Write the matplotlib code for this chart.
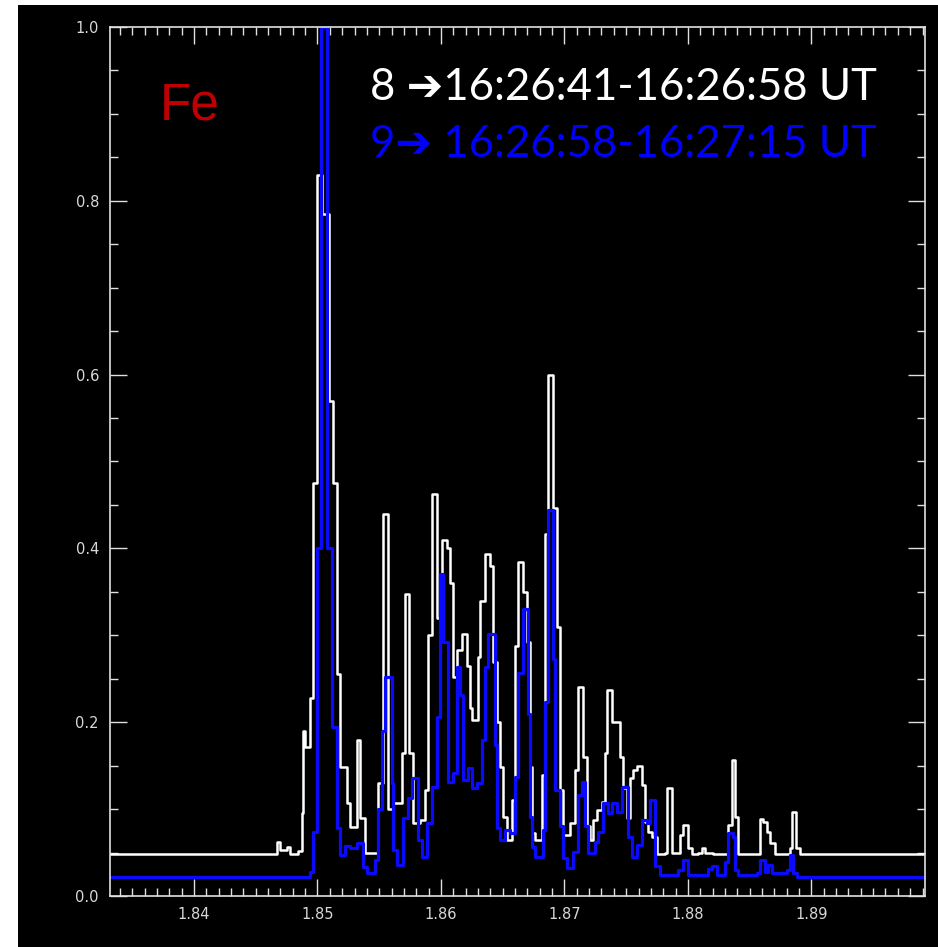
import numpy as np
import matplotlib
matplotlib.use("Agg")
import matplotlib.pyplot as plt
from matplotlib.ticker import MultipleLocator
from matplotlib.patches import Rectangle

# spectrum 8 (white), step start wavelength -> normalised intensity
white_x = [1.8300, 1.84673, 1.84697, 1.84754, 1.84778, 1.84843, 1.84875, 1.84883,
           1.84900, 1.84940, 1.84964, 1.84997, 1.85037, 1.85094, 1.85126, 1.85159,
           1.85183, 1.85240, 1.85264, 1.85321, 1.85345, 1.85386, 1.85491, 1.85532,
           1.85572, 1.85613, 1.85686, 1.85710, 1.85742, 1.85775, 1.85831, 1.85872,
           1.85896, 1.85929, 1.85969, 1.86010, 1.86050, 1.86075, 1.86099, 1.86131,
           1.86172, 1.86212, 1.86237, 1.86253, 1.86301, 1.86318, 1.86358, 1.86399,
           1.86423, 1.86455, 1.86480, 1.86504, 1.86536, 1.86577, 1.86601, 1.86626,
           1.86666, 1.86699, 1.86723, 1.86739, 1.86763, 1.86820, 1.86844, 1.86869,
           1.86909, 1.86942, 1.86966, 1.86990, 1.87047, 1.87088, 1.87112, 1.87152,
           1.87185, 1.87209, 1.87233, 1.87266, 1.87306, 1.87331, 1.87347, 1.87387,
           1.87452, 1.87476, 1.87509, 1.87533, 1.87558, 1.87590, 1.87630, 1.87655,
           1.87679, 1.87712, 1.87752, 1.87817, 1.87833, 1.87874, 1.87938, 1.87963,
           1.88003, 1.88036, 1.88084, 1.88117, 1.88141, 1.88206, 1.88327, 1.88360,
           1.88384, 1.88408, 1.88587, 1.88611, 1.88643, 1.88668, 1.88708, 1.88830,
           1.88846, 1.88878, 1.88911]
white_y = [0.048, 0.062, 0.053, 0.056, 0.048, 0.052, 0.095, 0.19,
           0.171, 0.228, 0.475, 0.83, 0.785, 0.57, 0.475, 0.255,
           0.148, 0.107, 0.079, 0.18, 0.09, 0.05, 0.13, 0.44,
           0.10, 0.107, 0.165, 0.348, 0.164, 0.084, 0.087, 0.122,
           0.30, 0.463, 0.32, 0.41, 0.40, 0.36, 0.252, 0.283,
           0.302, 0.265, 0.216, 0.202, 0.275, 0.34, 0.394, 0.38,
           0.269, 0.20, 0.148, 0.091, 0.064, 0.11, 0.288, 0.384,
           0.35, 0.292, 0.148, 0.072, 0.064, 0.139, 0.417, 0.60,
           0.447, 0.31, 0.122, 0.07, 0.084, 0.145, 0.24, 0.16,
           0.08, 0.064, 0.087, 0.099, 0.108, 0.164, 0.237, 0.20,
           0.16, 0.124, 0.09, 0.136, 0.145, 0.15, 0.128, 0.085,
           0.074, 0.068, 0.048, 0.05, 0.124, 0.05, 0.07, 0.082,
           0.055, 0.048, 0.05, 0.055, 0.05, 0.048, 0.082, 0.156,
           0.091, 0.048, 0.089, 0.085, 0.074, 0.061, 0.048, 0.055,
           0.097, 0.055, 0.048]

# spectrum 9 (blue)
blue_x = [1.8300, 1.84940, 1.84964, 1.84997, 1.85029, 1.85078, 1.85118, 1.85159,
          1.85183, 1.85224, 1.85264, 1.85321, 1.85370, 1.85402, 1.85467, 1.85491,
          1.85524, 1.85548, 1.85605, 1.85613, 1.85645, 1.85694, 1.85734, 1.85767,
          1.85815, 1.85848, 1.85888, 1.85929, 1.85969, 1.85994, 1.86018, 1.86058,
          1.86099, 1.86131, 1.86156, 1.86180, 1.86220, 1.86253, 1.86293, 1.86334,
          1.86358, 1.86382, 1.86439, 1.86455, 1.86480, 1.86520, 1.86561, 1.86601,
          1.86626, 1.86666, 1.86707, 1.86723, 1.86739, 1.86763, 1.86828, 1.86844,
          1.86869, 1.86909, 1.86925, 1.86966, 1.86990, 1.87023, 1.87071, 1.87112,
          1.87144, 1.87169, 1.87193, 1.87250, 1.87274, 1.87314, 1.87355, 1.87387,
          1.87428, 1.87468, 1.87517, 1.87549, 1.87590, 1.87630, 1.87671, 1.87695,
          1.87736, 1.87776, 1.87922, 1.87963, 1.88003, 1.88165, 1.88198, 1.88238,
          1.88303, 1.88327, 1.88368, 1.88384, 1.88408, 1.88562, 1.88587, 1.88627,
          1.88652, 1.88684, 1.88806, 1.88830, 1.88854, 1.88887]
blue_y = [0.022, 0.028, 0.074, 0.40, 1.0, 0.40, 0.194, 0.078,
          0.047, 0.058, 0.055, 0.061, 0.033, 0.026, 0.041, 0.10,
          0.19, 0.252, 0.13, 0.053, 0.036, 0.09, 0.113, 0.136,
          0.064, 0.045, 0.084, 0.125, 0.206, 0.37, 0.292, 0.131,
          0.141, 0.263, 0.231, 0.133, 0.147, 0.124, 0.13, 0.179,
          0.263, 0.302, 0.174, 0.078, 0.064, 0.076, 0.072, 0.137,
          0.257, 0.33, 0.21, 0.091, 0.056, 0.045, 0.076, 0.223,
          0.444, 0.273, 0.122, 0.08, 0.044, 0.032, 0.051, 0.116,
          0.131, 0.08, 0.049, 0.062, 0.074, 0.107, 0.095, 0.107,
          0.097, 0.125, 0.068, 0.045, 0.059, 0.087, 0.084, 0.11,
          0.034, 0.024, 0.03, 0.041, 0.024, 0.031, 0.034, 0.024,
          0.039, 0.072, 0.068, 0.03, 0.024, 0.026, 0.041, 0.028,
          0.036, 0.026, 0.03, 0.047, 0.026, 0.022]

x_lo, x_hi = 1.8332, 1.8992

fig = plt.figure(figsize=(9.38, 9.47), dpi=100, facecolor="white")
# black panel (slide background) leaving a thin white strip top/left
fig.patches.append(Rectangle((18 / 938, 0), 1, 1 - 5 / 947, transform=fig.transFigure,
                             facecolor="black", edgecolor="none", zorder=-10))

ax = fig.add_axes([110 / 938, 1 - 896 / 947, (925 - 110) / 938, (896 - 27) / 947])
ax.set_facecolor("black")

wx = np.append(white_x, x_hi)
wy = np.append(white_y, white_y[-1])
bx = np.append(blue_x, x_hi)
by = np.append(blue_y, blue_y[-1])
ax.step(wx, wy, where="post", color="white", lw=1.8)
ax.step(bx, by, where="post", color="#0a0aff", lw=2.3)

ax.set_xlim(x_lo, x_hi)
ax.set_ylim(0, 1.0)

ax.xaxis.set_major_locator(MultipleLocator(0.01))
ax.xaxis.set_minor_locator(MultipleLocator(0.001))
ax.yaxis.set_major_locator(MultipleLocator(0.2))
ax.yaxis.set_minor_locator(MultipleLocator(0.05))
ax.xaxis.set_major_formatter(matplotlib.ticker.FormatStrFormatter("%.2f"))
ax.yaxis.set_major_formatter(matplotlib.ticker.FormatStrFormatter("%.1f"))

for s in ax.spines.values():
    s.set_color("#e0e0e0")
    s.set_linewidth(1.2)
ax.tick_params(which="both", direction="in", top=True, right=True,
               color="#e0e0e0", labelcolor="#d8d8d8", labelsize=10.5, width=1.0)
ax.tick_params(which="major", length=12, pad=8)
ax.tick_params(which="minor", length=6)

fig.text(160 / 938, 1 - 120 / 947, "Fe", color="#c00000", fontsize=37,
         family="Liberation Sans")
txt_font = ["Lato", "DejaVu Sans"]
fig.text(370 / 938, 1 - 100 / 947, "8 \u279416:26:41-16:26:58 UT", color="white",
         fontsize=31.5, family=txt_font)
fig.text(370 / 938, 1 - 157 / 947, "9\u2794 16:26:58-16:27:15 UT", color="#0000ff",
         fontsize=31.5, family=txt_font)

fig.savefig("out.png", dpi=100, facecolor=fig.get_facecolor())
